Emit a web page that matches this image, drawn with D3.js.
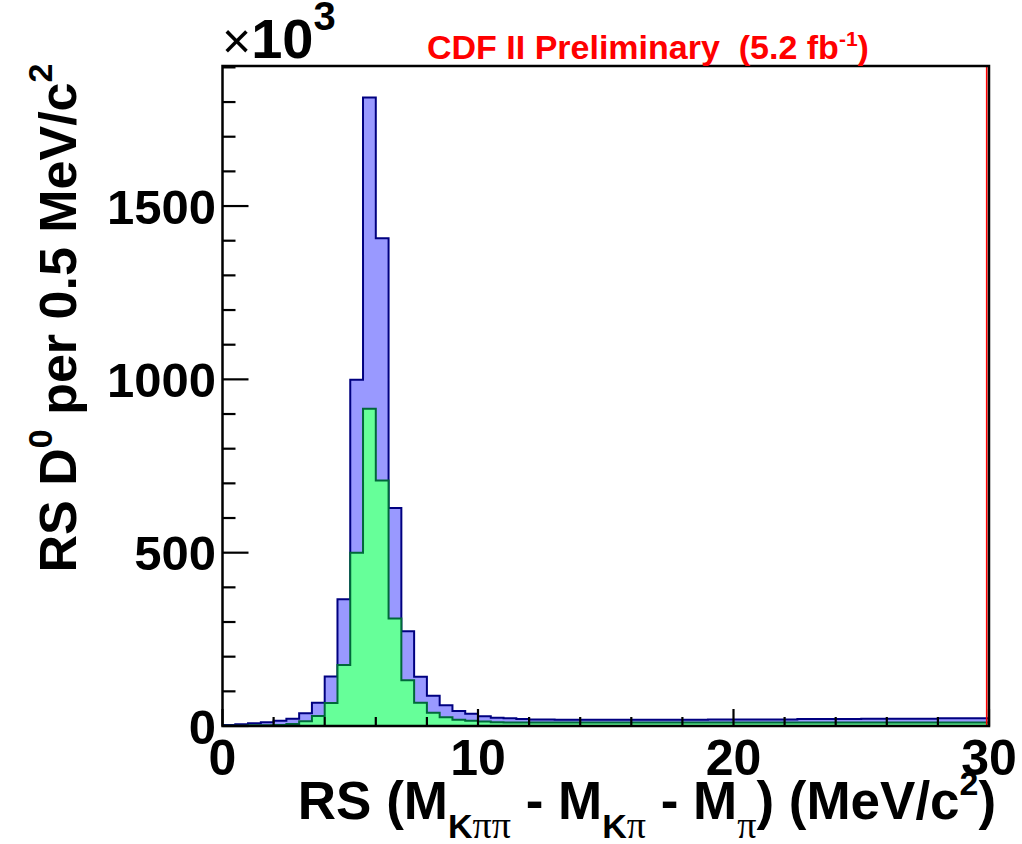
<!DOCTYPE html>
<html>
<head>
<meta charset="utf-8">
<script src="https://cdn.jsdelivr.net/npm/d3@7"></script>
<style>
    body { margin: 0; background: #fff; }
    text { font-family: "Liberation Sans", Arial, sans-serif; font-weight: bold; }
</style>
</head>
<body>
<div id="hist"></div>
<script>
// 60 bins of 0.5 MeV/c2 from 0 to 30, counts in units of 10^3
const binWidth = 0.5;
const xRange = [0, 30];
const yMax = 1904;

const totalCounts = [
    3, 5, 8, 11, 15, 21, 37, 67, 143, 366,
    999, 1813, 1407, 629, 273, 142, 87, 60, 43, 35,
    28, 24, 22, 20, 19, 19, 18, 18, 18, 18,
    18, 18, 18, 18, 18, 18, 18, 18, 19, 19,
    19, 19, 19, 19, 19, 20, 20, 20, 20, 20,
    21, 21, 21, 21, 21, 21, 22, 22, 22, 22
];

const signalCounts = [
    1, 1, 2, 2, 3, 6, 14, 29, 66, 176,
    500, 915, 708, 310, 132, 67, 38, 25, 18, 15,
    13, 11, 10, 10, 10, 10, 10, 10, 10, 10,
    10, 10, 10, 10, 10, 10, 10, 10, 10, 10,
    10, 10, 10, 10, 10, 10, 10, 10, 10, 10,
    10, 10, 10, 10, 10, 10, 10, 10, 10, 10
];

const xMajorTicks = [0, 10, 20, 30];
const xMinorTicks = [2, 4, 6, 8, 12, 14, 16, 18, 22, 24, 26, 28];
const yMajorTicks = [0, 500, 1000, 1500];
const yMinorTicks = [100, 200, 300, 400, 600, 700, 800, 900, 1100, 1200, 1300, 1400, 1600, 1700, 1800, 1900];

const frame = { left: 222.5, right: 989, top: 66, bottom: 726 };

const svg = d3.select("#hist")
    .append("svg")
    .attr("width", 1022)
    .attr("height", 844);

const x = d3.scaleLinear().domain(xRange).range([frame.left, frame.right]);
const y = d3.scaleLinear().domain([0, yMax]).range([frame.bottom, frame.top]);

svg.append("clipPath")
    .attr("id", "plot-clip")
    .append("rect")
    .attr("x", frame.left)
    .attr("y", frame.top)
    .attr("width", frame.right - frame.left)
    .attr("height", frame.bottom - frame.top);

// turn bin counts into step points (last bin repeated to close at x = 30)
function stepPoints(counts) {
    const pts = counts.map((c, i) => [xRange[0] + i * binWidth, c]);
    pts.push([xRange[0] + counts.length * binWidth, counts[counts.length - 1]]);
    return pts;
}

function drawHist(counts, fill, stroke) {
    const pts = stepPoints(counts);
    const area = d3.area()
        .curve(d3.curveStepAfter)
        .x(d => x(d[0]))
        .y0(y(0))
        .y1(d => y(d[1]));
    const line = d3.line()
        .curve(d3.curveStepAfter)
        .x(d => x(d[0]))
        .y(d => y(d[1]));

    const g = svg.append("g").attr("clip-path", "url(#plot-clip)");
    g.append("path")
        .attr("d", area(pts))
        .attr("fill", fill);
    g.append("path")
        .attr("d", line(pts))
        .attr("fill", "none")
        .attr("stroke", stroke)
        .attr("stroke-width", 2);
}

drawHist(totalCounts, "#9999ff", "#000080");
drawHist(signalCounts, "#66ff99", "#00683a");

// ticks, pointing into the frame
const axisG = svg.append("g").attr("stroke", "#000").attr("stroke-width", 2.2);

axisG.selectAll(".ymaj")
    .data(yMajorTicks)
    .enter().append("line")
    .attr("x1", frame.left).attr("x2", frame.left + 26)
    .attr("y1", d => y(d)).attr("y2", d => y(d));

axisG.selectAll(".ymin")
    .data(yMinorTicks)
    .enter().append("line")
    .attr("x1", frame.left).attr("x2", frame.left + 13)
    .attr("y1", d => y(d)).attr("y2", d => y(d));

axisG.selectAll(".xmaj")
    .data(xMajorTicks)
    .enter().append("line")
    .attr("x1", d => x(d)).attr("x2", d => x(d))
    .attr("y1", frame.bottom).attr("y2", frame.bottom - 17);

axisG.selectAll(".xmin")
    .data(xMinorTicks)
    .enter().append("line")
    .attr("x1", d => x(d)).attr("x2", d => x(d))
    .attr("y1", frame.bottom).attr("y2", frame.bottom - 9);

// red line just inside the right edge
svg.append("line")
    .attr("x1", frame.right - 2.3).attr("x2", frame.right - 2.3)
    .attr("y1", frame.top).attr("y2", frame.bottom)
    .attr("stroke", "#ff0000")
    .attr("stroke-width", 1.6);

svg.append("rect")
    .attr("x", frame.left)
    .attr("y", frame.top)
    .attr("width", frame.right - frame.left)
    .attr("height", frame.bottom - frame.top)
    .attr("fill", "none")
    .attr("stroke", "#000")
    .attr("stroke-width", 2.5);

// tick labels
svg.selectAll(".ylab")
    .data(yMajorTicks)
    .enter().append("text")
    .attr("x", 216)
    .attr("y", d => y(d) + 17.5)
    .attr("text-anchor", "end")
    .style("font-size", "49px")
    .text(d => d);

svg.selectAll(".xlab")
    .data(xMajorTicks)
    .enter().append("text")
    .attr("x", d => x(d))
    .attr("y", 775)
    .attr("text-anchor", "middle")
    .style("font-size", "50px")
    .text(d => d);

// text with sub/superscripts; parts = [text, shift, size, serif]
function richText(sel, parts) {
    let cur = 0;
    parts.forEach(p => {
        const t = sel.append("tspan")
            .attr("dy", p[1] - cur)
            .style("font-size", p[2] + "px")
            .text(p[0]);
        if (p[3]) t.style("font-family", "'Liberation Serif', 'DejaVu Serif', serif").style("font-weight", "normal");
        cur = p[1];
    });
    return sel;
}

// x axis title
richText(
    svg.append("text")
        .attr("x", 647)
        .attr("y", 819)
        .attr("text-anchor", "middle")
        .style("white-space", "pre"),
    [
        ["RS (M", 0, 53],
        ["K", 19, 34],
        ["\u03c0\u03c0", 19, 38, true],
        [" - M", 0, 53],
        ["K", 19, 34],
        ["\u03c0", 19, 38, true],
        [" - M", 0, 53],
        ["\u03c0", 19, 38, true],
        [") (MeV/c", 0, 53],
        ["2", -24, 34],
        [")", 0, 53]
    ]
);

// y axis title
richText(
    svg.append("text")
        .attr("transform", "translate(76,318) rotate(-90)")
        .attr("text-anchor", "middle")
        .style("white-space", "pre"),
    [
        ["RS D", 0, 52],
        ["0", -24, 34],
        [" per 0.5 MeV/c", 0, 52],
        ["2", -24, 34]
    ]
);

// exponent label
richText(
    svg.append("text")
        .attr("x", 222)
        .attr("y", 58),
    [
        ["\u00d7", 0, 50],
        ["10", 0, 56],
        ["3", -28, 40]
    ]
).select("tspan").style("font-weight", "normal");

// CDF label
richText(
    svg.append("text")
        .attr("x", 427)
        .attr("y", 59)
        .attr("fill", "#ff0000")
        .style("white-space", "pre"),
    [
        ["CDF II Preliminary  (5.2 fb", 0, 34],
        ["-1", -13, 21],
        [")", 0, 34]
    ]
);
</script>
</body>
</html>
